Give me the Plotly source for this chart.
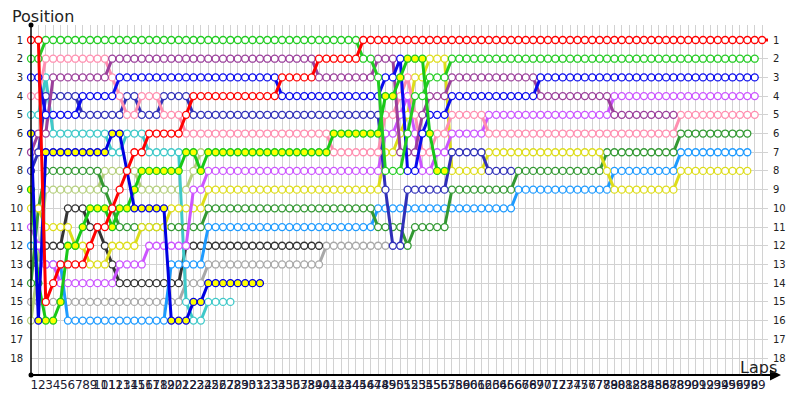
import plotly.graph_objects as go

# lap chart: each car's race position, stored as (position, number of laps) runs from lap 0
red = [(1, 2), (15, 1), (14, 1), (13, 4), (12, 1), (11, 2), (10, 1), (9, 1), (8, 1), (7, 2),
       (6, 5), (5, 1), (4, 12), (3, 5), (2, 6), (1, 56)]
green = [(2, 2), (1, 43), (2, 2), (3, 1), (8, 3), (6, 1), (4, 2), (3, 3), (2, 42)]
pink = [(4, 2), (2, 9), (3, 1), (4, 1), (5, 2), (4, 3), (5, 3), (6, 20), (7, 7), (5, 2), (4, 1),
        (3, 1), (5, 1), (7, 2), (6, 2), (5, 5), (6, 26), (5, 11)]
purple = [(7, 1), (6, 2), (3, 8), (2, 28), (3, 8), (2, 3), (7, 3), (5, 1), (4, 3), (3, 12),
          (4, 10), (5, 9)]
blue = [(3, 2), (5, 5), (4, 5), (3, 22), (4, 14), (3, 2), (2, 1), (8, 2), (6, 1), (5, 3),
        (4, 12), (3, 30)]
navy = [(8, 1), (7, 1), (4, 5), (5, 6), (4, 2), (5, 3), (4, 4), (5, 26), (9, 1), (12, 2), (9, 6),
        (7, 5), (8, 4)]
cyan = [(5, 2), (3, 1), (6, 8), (7, 2), (6, 3), (7, 5), (15, 1), (16, 2), (15, 4)]
yellow_blue = [(6, 1), (16, 1), (7, 9), (6, 2), (8, 1), (10, 5), (16, 3), (15, 2), (14, 8)]
yellow_green = [(9, 1), (14, 1), (16, 2), (15, 1), (12, 2), (11, 1), (10, 3), (11, 1), (10, 2),
                (9, 1), (8, 6), (7, 2), (8, 1), (7, 17), (6, 7), (4, 2), (3, 1), (2, 3), (6, 1),
                (8, 2)]
violet = [(11, 1), (12, 1), (13, 2), (14, 8), (13, 4), (12, 6), (9, 2), (8, 24), (6, 2), (5, 1),
          (4, 1), (6, 1), (8, 2), (7, 2), (6, 5), (5, 17), (4, 20)]
dark_grey = [(13, 2), (12, 3), (10, 3), (11, 2), (12, 1), (13, 1), (14, 9), (12, 19)]
grey = [(15, 21), (14, 3), (13, 16), (12, 9)]
olive = [(16, 1), (13, 1), (9, 8), (8, 5), (9, 7), (8, 1), (7, 1)]
dark_green = [(14, 1), (10, 1), (8, 8), (9, 1), (10, 1), (11, 12), (10, 23), (11, 4), (12, 1),
              (11, 5), (9, 9), (8, 12), (7, 10), (6, 10)]
sky = [(12, 2), (13, 3), (16, 14), (13, 5), (11, 23), (10, 19), (9, 13), (8, 9), (7, 10)]
yellow = [(10, 2), (11, 4), (12, 2), (13, 3), (12, 4), (11, 4), (10, 5), (9, 24), (7, 2), (6, 1),
          (5, 1), (3, 2), (2, 3), (8, 5), (7, 16), (8, 1), (9, 9), (8, 10)]

lap_labels = list(range(1, 100))
positions = list(range(1, 19))

# name, runs, line colour, marker fill
cars = [
    ("grey", grey, "#a8a8a8", "white"),
    ("dark grey", dark_grey, "#333333", "white"),
    ("olive", olive, "#b5cf7d", "white"),
    ("cyan", cyan, "#3fc9c9", "white"),
    ("sky", sky, "#1e9bff", "white"),
    ("dark green", dark_green, "#339933", "white"),
    ("yellow", yellow, "#dddd1a", "white"),
    ("violet", violet, "#cc55ff", "white"),
    ("navy", navy, "#3030b8", "white"),
    ("pink", pink, "#ff8fb0", "white"),
    ("purple", purple, "#9b3f9b", "white"),
    ("blue", blue, "#0a0aee", "white"),
    ("yellow/green", yellow_green, "#18c818", "#ffff00"),
    ("yellow/blue", yellow_blue, "#0000e0", "#ffff00"),
    ("green", green, "#22cc22", "white"),
    ("red", red, "#ff0000", "white"),
]


def expand(runs):
    out = []
    for pos, n in runs:
        out += [pos] * n
    return out


fig = go.Figure()
for name, runs, col, fill in cars:
    pos = expand(runs)
    fig.add_trace(go.Scatter(
        x=list(range(len(pos))), y=pos, name=name, mode="lines+markers",
        line=dict(color=col, width=3),
        marker=dict(symbol="circle", size=7, color=fill, line=dict(color=col, width=1.3)),
        cliponaxis=False, hoverinfo="skip",
    ))

# dummy trace so the right-hand position axis is drawn
fig.add_trace(go.Scatter(x=[0], y=[1], yaxis="y2", mode="markers",
                         marker=dict(opacity=0), hoverinfo="skip"))

# the page body adds ~8px around the figure, so margins are shifted by that much
yr = [18.909, 0.198]
fig.update_layout(
    width=800, height=400,
    margin=dict(l=23, r=40, t=17, b=33),
    plot_bgcolor="white", paper_bgcolor="white",
    showlegend=False,
    font=dict(family="DejaVu Sans", color="#222222"),
    xaxis=dict(range=[0, 99.8], tickvals=lap_labels, ticktext=[str(v) for v in lap_labels],
               tickfont=dict(size=12, color="#1a1a33"), tickangle=0, showgrid=True,
               gridcolor="#d2d2d2", gridwidth=1, zeroline=False, showline=False, ticks="",
               ticklabelshift=-4, ticklabelstandoff=1, automargin=False),
    yaxis=dict(range=yr, tickvals=positions, showgrid=True, gridcolor="#d2d2d2", gridwidth=1,
               zeroline=False, showline=False, ticks="", tickfont=dict(size=10),
               ticklabelstandoff=7, automargin=False),
    yaxis2=dict(range=yr, tickvals=positions, overlaying="y", side="right", showgrid=False,
                zeroline=False, showline=False, ticks="", tickfont=dict(size=10),
                ticklabelstandoff=4, automargin=False),
)

# axes with arrow and end dots
fig.add_shape(type="line", xref="paper", yref="paper", x0=0, x1=0, y0=0, y1=1,
              line=dict(color="black", width=1.5))
fig.add_shape(type="line", xref="paper", yref="paper", x0=0, x1=1.012, y0=0, y1=0,
              line=dict(color="black", width=2))
fig.add_annotation(xref="paper", yref="paper", x=1.0176, y=0, ax=-14, ay=0, text="",
                   showarrow=True, arrowhead=2, arrowsize=1.1, arrowwidth=2, arrowcolor="black")
for yy in (0, 1):
    fig.add_shape(type="circle", xref="paper", yref="paper", xsizemode="pixel",
                  ysizemode="pixel", xanchor=0, yanchor=yy, x0=-2.5, x1=2.5, y0=-2.5, y1=2.5,
                  fillcolor="black", line=dict(color="black", width=0))

fig.add_annotation(xref="paper", yref="paper", x=-0.028, y=1.024, text="Position",
                   showarrow=False, xanchor="left", yanchor="middle",
                   font=dict(size=16, color="#222222"))
fig.add_annotation(xref="paper", yref="paper", x=1.015, y=0.022, text="Laps",
                   showarrow=False, xanchor="right", yanchor="middle",
                   font=dict(size=16, color="#222222"))

fig.write_html("out.html")
